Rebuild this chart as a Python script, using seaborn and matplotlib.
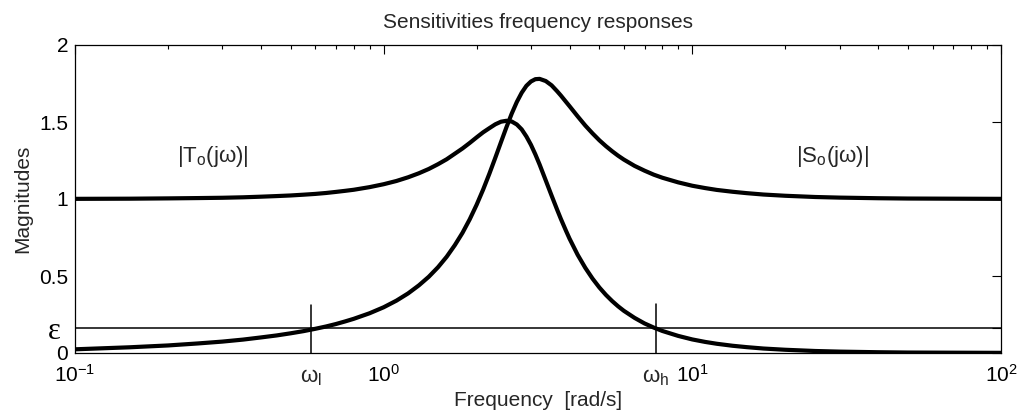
import matplotlib
matplotlib.use("Agg")
import matplotlib.pyplot as plt
import matplotlib.ticker as mticker
import seaborn as sns

# values (frequency in rad/s, magnitudes)
freq = [0.1, 0.15, 0.2, 0.25, 0.3, 0.35, 0.4, 0.45, 0.5, 0.55,
        0.6, 0.65, 0.7, 0.75, 0.8, 0.9, 1.0, 1.1, 1.2, 1.3,
        1.4, 1.5, 1.6, 1.7, 1.8, 1.9, 2.0, 2.1, 2.2, 2.3,
        2.4, 2.5, 2.6, 2.7, 2.8, 2.9, 3.0, 3.1, 3.2, 3.35,
        3.5, 3.65, 3.75, 3.9, 4.0, 4.25, 4.5, 4.75, 5.0, 5.25,
        5.5, 5.75, 6.0, 6.5, 7.0, 7.5, 8.0, 9.0, 10.0, 11.0,
        12.0, 13.5, 15.0, 17.0, 20.0, 25.0, 30.0, 40.0, 50.0, 70.0,
        100.0]
t_mag = [1.001, 1.002, 1.004, 1.006, 1.008, 1.011, 1.015, 1.019, 1.023, 1.028,
         1.033, 1.039, 1.046, 1.053, 1.060, 1.077, 1.096, 1.117, 1.141, 1.167,
         1.195, 1.226, 1.258, 1.294, 1.328, 1.364, 1.400, 1.433, 1.460, 1.485,
         1.502, 1.508, 1.503, 1.484, 1.452, 1.406, 1.352, 1.290, 1.224, 1.121,
         1.022, 0.929, 0.871, 0.792, 0.743, 0.638, 0.553, 0.483, 0.425, 0.377,
         0.337, 0.303, 0.274, 0.228, 0.192, 0.165, 0.143, 0.111, 0.088, 0.072,
         0.060, 0.047, 0.038, 0.029, 0.021, 0.013, 0.009, 0.005, 0.003, 0.002,
         0.001]
s_mag = [0.024, 0.037, 0.049, 0.062, 0.074, 0.087, 0.101, 0.114, 0.128, 0.142,
         0.157, 0.172, 0.188, 0.205, 0.222, 0.258, 0.297, 0.340, 0.387, 0.439,
         0.495, 0.557, 0.625, 0.700, 0.780, 0.868, 0.962, 1.061, 1.164, 1.268,
         1.370, 1.467, 1.555, 1.630, 1.690, 1.735, 1.763, 1.778, 1.780, 1.766,
         1.738, 1.699, 1.672, 1.630, 1.603, 1.537, 1.477, 1.426, 1.381, 1.343,
         1.310, 1.281, 1.256, 1.215, 1.184, 1.158, 1.138, 1.108, 1.086, 1.071,
         1.059, 1.047, 1.038, 1.029, 1.021, 1.013, 1.009, 1.005, 1.003, 1.002,
         1.001]

epsilon = 0.16
omega_l = 0.58
omega_h = 7.62
marker_top = [0.31, 0.32]

y_ticks = [0, epsilon, 0.5, 1, 1.5, 2]
y_labels = ["0", "ε ", "0.5", "1", "1.5", "2"]
x_ticks = [0.1, 1, 10, 100]
x_labels = [r"$\mathregular{10^{-1}}$", r"$\mathregular{10^{0}}$",
            r"$\mathregular{10^{1}}$", r"$\mathregular{10^{2}}$"]

sns.set_style("white")
plt.rcParams["font.family"] = ["Liberation Sans", "DejaVu Sans"]
plt.rcParams["mathtext.default"] = "regular"
plt.rcParams["font.size"] = 15

fig = plt.figure(figsize=(10.21, 4.16), dpi=100)
ax = fig.add_axes([75 / 1021, 63 / 416, 926 / 1021, 308 / 416])

sns.lineplot(x=freq, y=t_mag, ax=ax, color="black", lw=3)
sns.lineplot(x=freq, y=s_mag, ax=ax, color="black", lw=3)

# epsilon level and the two crossing markers
ax.axhline(epsilon, color="black", lw=1.1)
ax.plot([omega_l, omega_l], [0, marker_top[0]], color="black", lw=1.1)
ax.plot([omega_h, omega_h], [0, marker_top[1]], color="black", lw=1.1)

ax.set_xscale("log")
ax.set_xlim(0.1, 100)
ax.set_ylim(0, 2)

ax.set_xticks(x_ticks)
ax.set_xticklabels(x_labels)
ax.xaxis.set_minor_locator(mticker.LogLocator(base=10, subs=range(2, 10)))
ax.xaxis.set_minor_formatter(mticker.NullFormatter())
ax.set_yticks(y_ticks)
ax.set_yticklabels(y_labels)

ax.tick_params(which="both", direction="in", top=True, right=True,
               colors="black", labelsize=15)
ax.tick_params(which="major", length=6.5, width=0.8, pad=5)
ax.tick_params(axis="x", which="major", pad=8)
ax.tick_params(which="minor", length=3, width=0.8)
for sp in ax.spines.values():
    sp.set_linewidth(0.9)
    sp.set_color("black")

# the epsilon label is drawn bigger, in a serif face
eps_label = ax.get_yticklabels()[1]
eps_label.set_fontfamily("Liberation Serif")
eps_label.set_fontsize(22)

# omega labels under the axis
ax.text(omega_l, -0.045, "ω$_\\mathregular{l}$", transform=ax.get_xaxis_transform(),
        ha="center", va="top", fontsize=16)
ax.text(omega_h, -0.045, "ω$_\\mathregular{h}$", transform=ax.get_xaxis_transform(),
        ha="center", va="top", fontsize=16)

# curve labels
ax.text(0.214, 1.238, "|T$_\\mathregular{o}$(jω)|", ha="left", va="baseline", fontsize=16)
ax.text(21.7, 1.238, "|S$_\\mathregular{o}$(jω)|", ha="left", va="baseline", fontsize=16)

ax.set_title("Sensitivities frequency responses", fontsize=15, pad=12)
ax.set_xlabel("Frequency  [rad/s]", fontsize=15)
ax.set_ylabel("Magnitudes", fontsize=15)
ax.xaxis.set_label_coords(0.5, -0.125)
ax.yaxis.set_label_coords(-0.046, 0.5)

fig.savefig("out.png", dpi=100)
